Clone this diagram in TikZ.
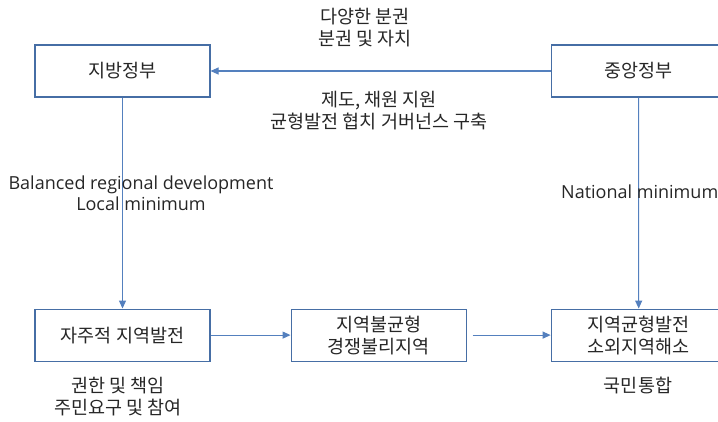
\documentclass[tikz,border=0pt]{standalone}
\usepackage{fontspec}
\setmainfont{Noto Sans CJK KR}
\newfontfamily\latinfont{Open Sans}
\usetikzlibrary{positioning,arrows.meta}
\definecolor{colorbox}  {RGB}{70 ,110,165}
\definecolor{colorline} {RGB}{84 ,128,190}
\definecolor{colortext} {RGB}{38 ,38 ,38 }

\begin{document}
\begin{tikzpicture}[
    x=1pt, y=-1pt,
    node distance = 2em,
    font={\fontsize{18.5}{22}\selectfont},
    box/.style={draw=colorbox,line width=1.1pt,text=colortext,minimum width=175pt,minimum height=52pt,align=center,inner sep=0pt},
    txt/.style={text=colortext,align=center,inner sep=0pt},
    eng/.style={txt,font={\latinfont\fontsize{18}{21}\selectfont}},
    link/.style={draw=colorline,line width=1.1pt,-{Triangle[length=8pt,width=7pt]}},
]

    % Frame
    \path[use as bounding box,clip] (0,0) rectangle (718,421);

    % Governments
    \node[box] (local) at (122.5,71) {지방정부};
    \node[box,right=340pt of local]     (central)   {중앙정부};

    % Development
    \node[box,below=211pt of local]     (autodev)   {자주적 지역발전};
    \node[box,right=80pt of autodev]    (imbalance) {지역불균형\\경쟁불리지역};
    \node[box,right=84pt of imbalance]  (balance)   {지역균형발전\\소외지역해소};

    % Arrows
    \draw[link] (central) -- (local);
    \draw[link] (local) -- (autodev);
    \draw[link] (central) -- (balance);
    \draw[link] (autodev) -- (imbalance);
    \draw[link,shorten <=6pt] (imbalance) -- (balance);

    % Text
    \node[txt] (decentral) at (365,28)  {다양한 분권\\분권 및 자치};
    \node[txt] (support)   at (379,111) {제도, 채원 지원\\균형발전 협치 거버넌스 구축};
    \node[eng] (regional)  at (141,193) {Balanced regional development\\Local minimum};
    \node[eng,anchor=west] (national) at (561,192) {National minimum};
    \node[txt] (resident)  at (118,397) {권한 및 책임\\주민요구 및 참여};
    \node[txt] (unity)     at (638,385) {국민통합};

\end{tikzpicture}
\end{document}
